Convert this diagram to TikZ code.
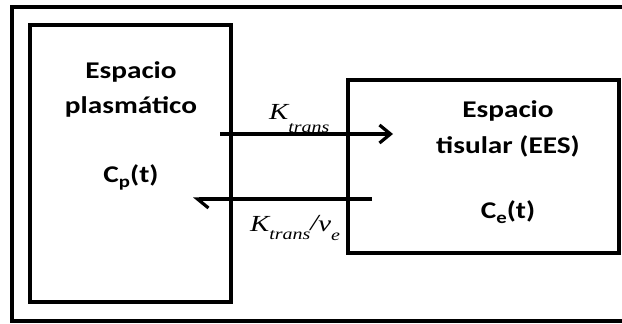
\documentclass[tikz,border=0pt]{standalone}
\usepackage{fontspec}
\usetikzlibrary{arrows.meta}
\newfontfamily\boxfont[FakeStretch=1.22]{Carlito}
\newfontfamily\ratefont[FakeStretch=1.25]{Liberation Serif}

\tikzset{
  frame/.style={draw=black, line width=3.6pt},
  compartment/.style={draw=black, line width=3.6pt, inner sep=0pt},
  boxtext/.style={anchor=base, inner sep=0pt,
    font=\boxfont\bfseries\fontsize{24}{24}\selectfont},
  ratetext/.style={anchor=base west, inner sep=0pt,
    font=\ratefont\itshape\fontsize{23}{23}\selectfont},
  flow/.style={line width=3.2pt},
}
\newcommand{\lowsub}[2]{\raisebox{#1}{\fontsize{16}{16}\selectfont #2}}

\begin{document}
\begin{tikzpicture}[x=1pt, y=-1pt]
  \path[use as bounding box] (0,0) rectangle (622,324);
  \clip (0,0) rectangle (622,324);

  % outer frame (runs past the right edge)
  \draw[frame] (12,7) rectangle (640,321);

  % compartments
  \node[compartment, minimum width=201pt, minimum height=277pt] (plasma) at (130.5,163.5) {};
  \node[compartment, minimum width=271pt, minimum height=173pt] (tissue) at (483.5,166.5) {};

  % plasma compartment labels
  \node[boxtext] (pl1) at (131,78) {Espacio};
  \node[boxtext] (pl2) at (131,113) {plasmático};
  \node[boxtext] (pl3) at (131,182) {C\raisebox{-5pt}{\fontsize{17}{17}\selectfont p}(t)};

  % tissue compartment labels
  \node[boxtext] (ti1) at (508,117) {Espacio};
  \node[boxtext] (ti2) at (508,153) {tisular (EES)};
  \node[boxtext] (ti3) at (508,218) {C\raisebox{-5pt}{\fontsize{17}{17}\selectfont e}(t)};

  % exchange arrows
  \coordinate (inS) at (220,134);
  \coordinate (inE) at (393,134);
  \coordinate (outS) at (372,199);
  \coordinate (outE) at (193,199);
  \draw[flow, -{Straight Barb[length=11pt, width=18pt, line width=3.2pt]}] (inS) -- (inE);
  \draw[flow, -{Straight Barb[left, length=11pt, width=18pt, line width=3.2pt]}] (outS) -- (outE);

  % rate constants
  \node[ratetext] (kin) at (269,119) {K\lowsub{-13pt}{trans}};
  \node[ratetext] (kout) at (250,231) {K\lowsub{-8pt}{trans}\raisebox{1pt}{/}v\lowsub{-9pt}{e}};
\end{tikzpicture}
\end{document}
